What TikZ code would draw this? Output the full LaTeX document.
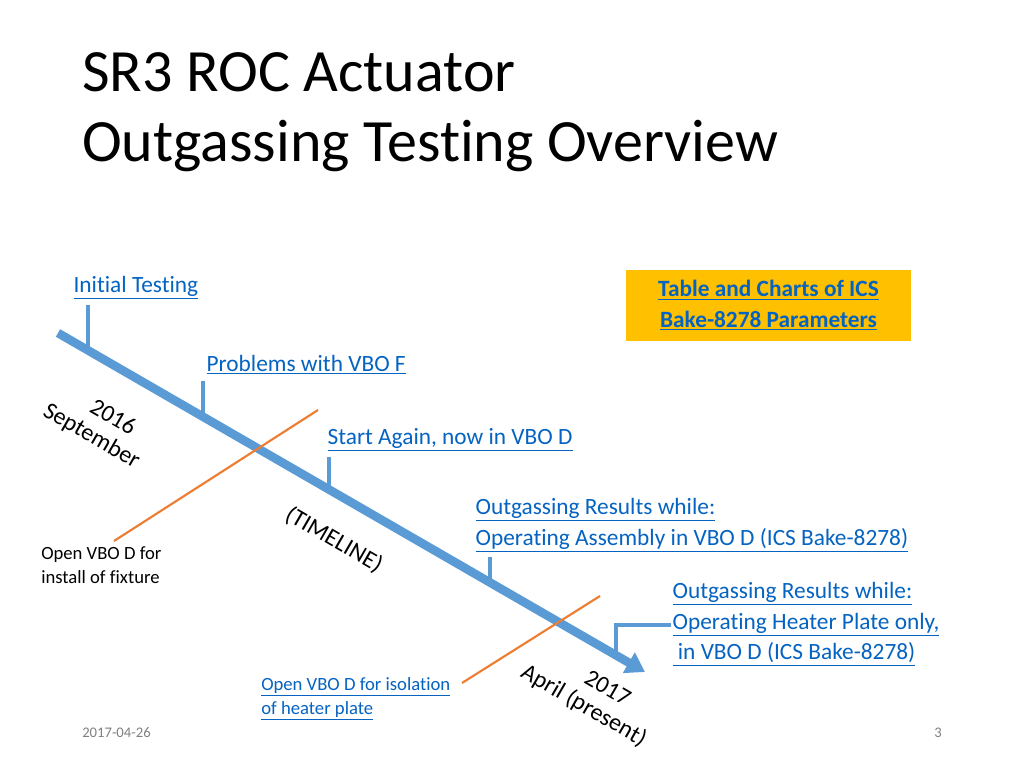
\documentclass[tikz,border=0pt]{standalone}
\usepackage{fontspec}
\setmainfont[Ligatures=NoCommon]{Carlito}
\usetikzlibrary{arrows.meta}
\definecolor{linkblue}{HTML}{0563C1}
\definecolor{lineblue}{HTML}{5B9BD5}
\definecolor{orangeln}{HTML}{ED7D31}
\definecolor{boxyellow}{HTML}{FFC000}
\tikzset{
  link/.style={text=linkblue, font=\fontsize{17.5}{23}\selectfont, anchor=west, inner sep=1pt, align=left},
  tick/.style={draw=lineblue, line width=2.4pt},
  cut/.style={draw=orangeln, line width=1.6pt},
  date/.style={font=\fontsize{18}{20}\selectfont, rotate=-30, align=left, inner sep=0pt}
}
\newcommand{\ul}[1]{\underline{#1}}
\begin{document}
\begin{tikzpicture}[x=0.75pt, y=-0.75pt]
  \useasboundingbox[fill=white] (0,0) rectangle (1024,768);
  % title
  \node[anchor=north west, align=left, font=\fontsize{45}{53}\selectfont, inner sep=0pt] (title) at (82,52)
    {SR3 ROC Actuator\\Outgassing Testing Overview};
  % timeline
  \coordinate (tstart) at (58,333);
  \coordinate (tend) at (645,672);
  \draw[draw=lineblue, line width=6.5pt, -{Triangle[length=14pt,width=17pt]}] (tstart) -- (tend);
  % orange cut lines
  \coordinate (c1a) at (114,541); \coordinate (c1b) at (318,410);
  \coordinate (c2a) at (462,683); \coordinate (c2b) at (600,596);
  \draw[cut] (c1a) -- (c1b);
  \draw[cut] (c2a) -- (c2b);
  % labels
  \node[link] (initial) at (72,288) {\ul{Initial Testing}};
  \node[link] (problems) at (205,365) {\ul{Problems with VBO F}};
  \node[link] (again) at (326,440) {\ul{Start Again, now in VBO D}};
  \node[link] (res1) at (474,525)
    {\ul{Outgassing Results while:}\\\ul{Operating Assembly in VBO D (ICS Bake-8278)}};
  \node[link] (res2) at (671,624)
    {\ul{Outgassing Results while:}\\\ul{Operating Heater Plate only,}\\\ul{ in VBO D (ICS Bake-8278)}};
  % ticks
  \draw[tick] (88,305) -- (88,348);
  \draw[tick] (203,381) -- (203,414);
  \draw[tick] (329,457) -- (329,487);
  \draw[tick] (490,557) -- (490,581);
  \draw[tick] (616,651) -- (616,625) -- (res2.west |- 0,625);
  % notes
  \node[anchor=north west, align=left, font=\fontsize{14}{18}\selectfont, inner sep=0pt] (openA) at (41,546)
    {Open VBO D for\\install of fixture};
  \node[anchor=north west, align=left, text=linkblue, font=\fontsize{14}{18}\selectfont, inner sep=0pt] (openB) at (261,677)
    {\ul{Open VBO D for isolation}\\\ul{of heater plate}};
  % dates
  \node[date] (d2016) at (98,425) {\hspace*{1.6em}2016\\September};
  \node[date] (tl) at (334,540) {(TIMELINE)};
  \node[date] (d2017) at (590,695) {\hspace*{2.4em}2017\\April (present)};
  % box
  \node[fill=boxyellow, minimum width=285*0.75pt, minimum height=71*0.75pt, align=center,
        text=linkblue, font=\bfseries\fontsize{17.5}{23}\selectfont] (tbl) at (768.5,305.5)
    {\ul{Table and Charts of ICS}\\\ul{Bake-8278 Parameters}};
  % footer
  \node[text=gray, font=\fontsize{11}{12}\selectfont, anchor=west, inner sep=0pt] (datef) at (82,733) {2017-04-26};
  \node[text=gray, font=\fontsize{11}{12}\selectfont, inner sep=0pt] (page) at (938,733) {3};
\end{tikzpicture}
\end{document}
